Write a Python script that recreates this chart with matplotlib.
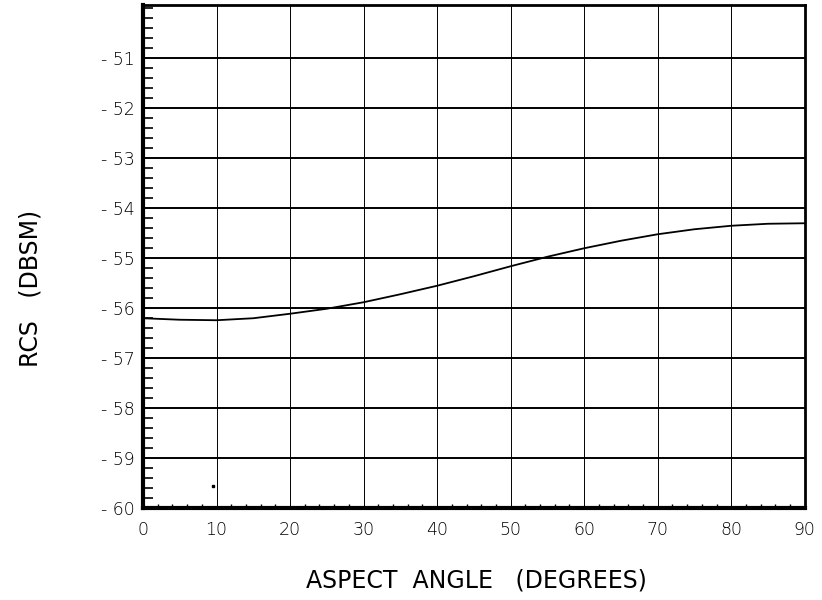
import matplotlib
matplotlib.use("Agg")
import matplotlib.pyplot as plt
from matplotlib.ticker import MultipleLocator

# Data
ANGLE = [0, 5, 10, 15, 20, 25, 30, 35, 40, 45, 50, 55, 60, 65, 70, 75, 80, 85, 90]
RCS = [-56.20, -56.23, -56.24, -56.20, -56.11, -56.01, -55.88, -55.72, -55.55,
       -55.36, -55.16, -54.97, -54.80, -54.65, -54.52, -54.42, -54.35, -54.31, -54.30]
DOT_X = [9.5]
DOT_Y = [-59.55]

X_TICKS = list(range(0, 91, 10))
Y_TICKS = list(range(-60, -50))

fig = plt.figure(figsize=(8.22, 6.0), dpi=100)
ax = fig.add_axes([0.174, 0.153, 0.805, 0.839])

for y in Y_TICKS:
    ax.axhline(y, color="black", lw=1.4, zorder=1)
for x in X_TICKS:
    ax.axvline(x, color="black", lw=0.7, zorder=1)

ax.plot(ANGLE, RCS, color="black", lw=1.3, zorder=3)
ax.plot(DOT_X, DOT_Y, "s", color="black", ms=2, zorder=3)

ax.set_xlim(0, 90)
ax.set_ylim(-60, -49.93)
ax.set_xticks(X_TICKS)
ax.set_xticklabels([str(x) for x in X_TICKS])
ax.set_yticks(Y_TICKS)
ax.set_yticklabels([f"- {abs(y)}" for y in Y_TICKS])
ax.xaxis.set_minor_locator(MultipleLocator(2))
ax.yaxis.set_minor_locator(MultipleLocator(0.2))

ax.tick_params(axis="both", which="both", direction="in", top=False, right=False)
ax.tick_params(axis="y", which="minor", length=7, width=1.2)
ax.tick_params(axis="y", which="major", length=0, labelsize=12.5, pad=6)
ax.tick_params(axis="x", which="minor", length=3, width=1)
ax.tick_params(axis="x", which="major", length=0, labelsize=12.5, pad=9)
for lbl in ax.get_xticklabels() + ax.get_yticklabels():
    lbl.set_fontweight("light")

for side in ["left", "bottom"]:
    ax.spines[side].set_linewidth(3)
for side in ["top", "right"]:
    ax.spines[side].set_linewidth(2)

fig.text(0.58, 0.033, "ASPECT  ANGLE   (DEGREES)", ha="center", va="center",
         fontsize=17)
fig.text(0.037, 0.52, "RCS   (DBSM)", ha="center", va="center", rotation=90,
         fontsize=17)

fig.savefig("out.png", dpi=100)
